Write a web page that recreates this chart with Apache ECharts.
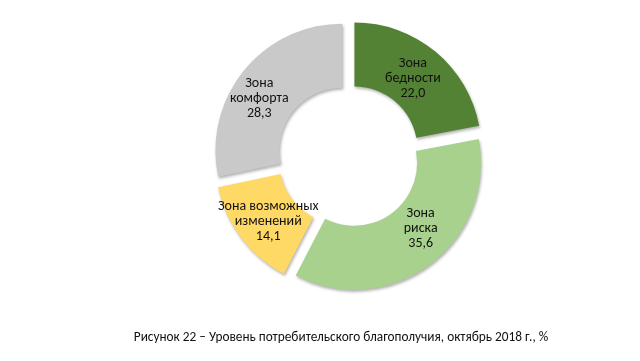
<!DOCTYPE html>
<html>
<head>
<meta charset="utf-8">
<script src="https://cdn.jsdelivr.net/npm/echarts@6/dist/echarts.min.js"></script>
<style>
html,body{margin:0;padding:0;background:#fff;}
#c{width:640px;height:361px;}
</style>
</head>
<body>
<div id="c"></div>
<script>
var categories = ['Зона\nбедности', 'Зона\nриска', 'Зона возможных\nизменений', 'Зона\nкомфорта'];
var values = [22.0, 35.6, 14.1, 28.3];
var colors = ['#548235', '#A9D18E', '#FFD966', '#C9C9C9'];
var caption = 'Рисунок 22 – Уровень потребительского благополучия, октябрь 2018 г., %';
// small label nudges (px) to mimic the reference placement
var labelShift = [[-4, 5], [8, -13], [4, 1], [-7, 10]];

var FONT = 'Carlito, Lato, "Liberation Sans", sans-serif';
var chart = echarts.init(document.getElementById('c'), null, {renderer: 'canvas'});
var data = categories.map(function (n, i) {
  return {
    name: n, value: values[i], selected: true,
    itemStyle: {color: colors[i]},
    select: {itemStyle: {color: colors[i], borderWidth: 0}}
  };
});
chart.setOption({
  animation: false,
  backgroundColor: '#fff',
  series: [{
    type: 'pie',
    center: [349, 156],
    radius: [63, 127],
    startAngle: 90,
    clockwise: true,
    selectedMode: 'multiple',
    selectedOffset: 8.5,
    avoidLabelOverlap: false,
    itemStyle: {
      borderWidth: 0,
      shadowBlur: 3,
      shadowOffsetX: 1,
      shadowOffsetY: 2,
      shadowColor: 'rgba(0,0,0,0.3)'
    },
    label: {
      show: true,
      position: 'inside',
      color: '#111',
      fontFamily: FONT,
      fontSize: 14,
      lineHeight: 15,
      formatter: function (p) {
        return p.name + '\n' + p.value.toFixed(1).replace('.', ',');
      }
    },
    labelLayout: function (p) {
      var s = labelShift[p.dataIndex];
      return {dx: s[0], dy: s[1]};
    },
    labelLine: {show: false},
    emphasis: {disabled: true},
    data: data
  }],
  graphic: [{
    type: 'text',
    style: {
      x: 341, y: 338,
      text: caption,
      textAlign: 'center',
      textVerticalAlign: 'middle',
      fontFamily: FONT,
      fontSize: 13.3,
      fill: '#111'
    }
  }]
});
</script>
</body>
</html>
